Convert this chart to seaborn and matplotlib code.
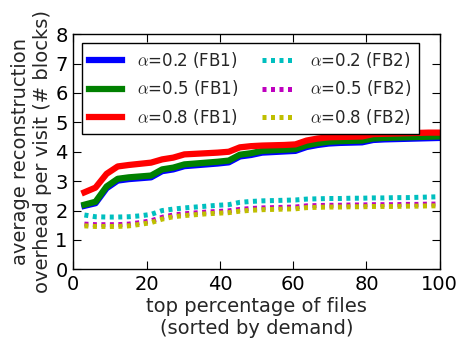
import numpy as np
import pandas as pd
import seaborn as sns
import matplotlib
matplotlib.use("Agg")
import matplotlib.pyplot as plt

# top percentage of files (sorted by demand)
pct = [100 * k / 33 for k in range(1, 34)]

fb1_a02 = [2.16, 2.25, 2.76, 3.02, 3.07, 3.10, 3.13, 3.34, 3.40, 3.51, 3.54,
           3.57, 3.60, 3.64, 3.84, 3.89, 3.97, 3.99, 4.01, 4.03, 4.16, 4.23,
           4.28, 4.30, 4.31, 4.32, 4.40, 4.42, 4.43, 4.44, 4.45, 4.46, 4.47]
fb1_a05 = [2.20, 2.30, 2.82, 3.08, 3.13, 3.16, 3.19, 3.40, 3.46, 3.57, 3.60,
           3.63, 3.66, 3.70, 3.90, 3.95, 4.03, 4.05, 4.07, 4.09, 4.22, 4.29,
           4.34, 4.36, 4.37, 4.38, 4.45, 4.47, 4.48, 4.49, 4.50, 4.51, 4.52]
fb1_a08 = [2.62, 2.78, 3.25, 3.50, 3.55, 3.59, 3.63, 3.74, 3.80, 3.91, 3.93,
           3.95, 3.97, 4.00, 4.15, 4.19, 4.21, 4.22, 4.23, 4.25, 4.38, 4.45,
           4.49, 4.50, 4.51, 4.52, 4.60, 4.61, 4.62, 4.63, 4.64, 4.65, 4.65]
fb2_a02 = [1.85, 1.79, 1.78, 1.78, 1.79, 1.82, 1.87, 2.00, 2.05, 2.09, 2.12,
           2.15, 2.18, 2.20, 2.28, 2.31, 2.33, 2.34, 2.35, 2.36, 2.39, 2.40,
           2.41, 2.41, 2.42, 2.42, 2.43, 2.43, 2.44, 2.44, 2.45, 2.46, 2.47]
fb2_a05 = [1.54, 1.52, 1.52, 1.52, 1.54, 1.59, 1.65, 1.77, 1.85, 1.89, 1.92,
           1.95, 1.97, 1.99, 2.04, 2.07, 2.09, 2.10, 2.11, 2.12, 2.16, 2.17,
           2.18, 2.18, 2.19, 2.19, 2.20, 2.20, 2.20, 2.21, 2.21, 2.22, 2.22]
fb2_a08 = [1.48, 1.46, 1.46, 1.46, 1.48, 1.53, 1.59, 1.71, 1.79, 1.83, 1.86,
           1.89, 1.91, 1.93, 1.98, 2.01, 2.03, 2.04, 2.05, 2.06, 2.10, 2.11,
           2.12, 2.12, 2.13, 2.13, 2.14, 2.14, 2.14, 2.15, 2.15, 2.16, 2.16]

labels = [r"$\alpha$=0.2 (FB1)", r"$\alpha$=0.5 (FB1)", r"$\alpha$=0.8 (FB1)",
          r"$\alpha$=0.2 (FB2)", r"$\alpha$=0.5 (FB2)", r"$\alpha$=0.8 (FB2)"]
series = [fb1_a02, fb1_a05, fb1_a08, fb2_a02, fb2_a05, fb2_a08]
colors = ["#0000ff", "#008000", "#ff0000", "#00bfbf", "#bf00bf", "#bfbf00"]

sns.set_style("ticks")
plt.rcParams.update({
    "font.family": ["DejaVu Sans"],
    "mathtext.fontset": "cm",
    "xtick.direction": "in",
    "ytick.direction": "in",
    "xtick.top": True,
    "ytick.right": True,
    "xtick.major.size": 6,
    "ytick.major.size": 6,
    "axes.edgecolor": "black",
    "axes.linewidth": 1.0,
    "xtick.color": "black",
    "ytick.color": "black",
})

fig = plt.figure(figsize=(4.61, 3.41), dpi=100)
ax = fig.add_axes([0.159, 0.21, 0.795, 0.69])

for i, (vals, lab, col) in enumerate(zip(series, labels, colors)):
    df = pd.DataFrame({"pct": pct, "overhead": vals})
    if i < 3:
        sns.lineplot(data=df, x="pct", y="overhead", ax=ax, color=col,
                     lw=4.5, label=lab, solid_capstyle="projecting")
    else:
        sns.lineplot(data=df, x="pct", y="overhead", ax=ax, color=col,
                     lw=3.6, linestyle=(0, (0.8, 0.9)), label=lab)

ax.set_xlim(0, 100)
ax.set_ylim(0, 8)
ax.set_xticks([0, 20, 40, 60, 80, 100])
ax.set_yticks(range(0, 9))
ax.tick_params(labelsize=14, pad=4)
ax.set_xlabel("top percentage of files\n(sorted by demand)", fontsize=14,
              labelpad=2)
ax.set_ylabel("average reconstruction\noverhead per visit (# blocks)",
              fontsize=14, labelpad=2)

leg = ax.legend(ncol=2, loc="upper left", bbox_to_anchor=(0.023, 0.962),
                borderaxespad=0, fontsize=12, frameon=True, fancybox=False,
                framealpha=1, edgecolor="black", handlelength=2.0,
                handletextpad=0.9, columnspacing=1.4, borderpad=0.42,
                labelspacing=0.5)
leg.get_frame().set_linewidth(1.0)

fig.savefig("out.png", dpi=100)
